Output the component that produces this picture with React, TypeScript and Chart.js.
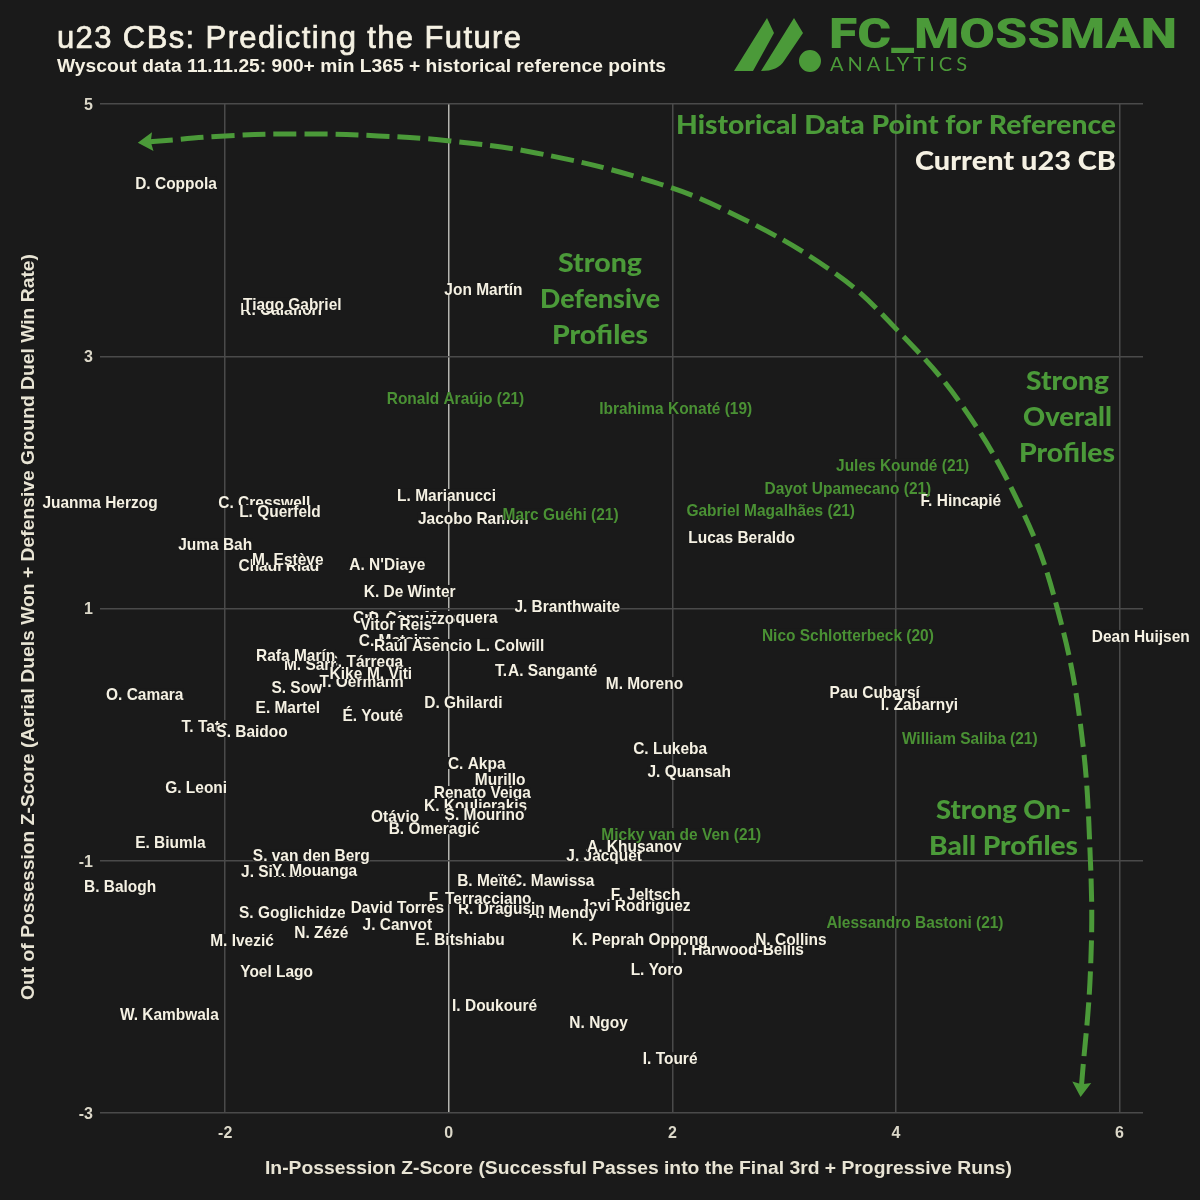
import React, { useEffect, useRef } from "react";
import { Chart, registerables } from "chart.js";

Chart.register(...registerables);

const xTicks = [-2, 0, 2, 4, 6];
const yTicks = [5, 3, 1, -1, -3];

// Current u23 CBs, in back-to-front drawing order
const currentNames = [
  "D. Coppola", "R. Calafiori", "Tiago Gabriel", "Jon Martín", "Juanma Herzog", "C. Cresswell", "L. Querfeld",
  "L. Marianucci", "Jacobo Ramón", "Juma Bah", "Chadi Riad", "M. Estève", "A. N'Diaye", "K. De Winter",
  "J. Branthwaite", "Cristhian Mosquera", "P. Comuzzo", "Vitor Reis", "C. Matsima", "Raúl Asencio", "L. Colwill",
  "C. Tárrega", "M. Sarr", "Rafa Marín", "T. Oermann", "Kike Salas", "M. Viti", "T. Adu", "A. Sanganté",
  "M. Moreno", "S. Sow", "E. Martel", "É. Youté", "D. Ghilardi", "O. Camara", "T. Tate", "S. Baidoo",
  "I. Zabarnyi", "Pau Cubarsí", "F. Hincapié", "Lucas Beraldo", "Dean Huijsen", "C. Lukeba", "J. Quansah",
  "C. Akpa", "Murillo", "Renato Veiga", "K. Koulierakis", "S. Mourino", "B. Omeragić", "Otávio", "G. Leoni",
  "E. Biumla", "S. van den Berg", "J. Simon", "Y. Mouanga", "B. Balogh", "C. Mawissa", "B. Meïté",
  "Javi Rodríguez", "A. Mendy", "R. Dragusin", "F. Terracciano", "David Torres", "S. Goglichidze", "J. Canvot",
  "N. Zézé", "E. Bitshiabu", "M. Ivezić", "Yoel Lago", "J. Jacquet", "A. Khusanov", "F. Jeltsch",
  "T. Harwood-Bellis", "K. Peprah Oppong", "N. Collins", "L. Yoro", "I. Doukouré", "N. Ngoy", "I. Touré",
  "W. Kambwala",
];
const currentX = [
  -2.44, -1.5, -1.4, 0.31, -3.12, -1.65, -1.51,
  -0.02, 0.22, -2.09, -1.52, -1.44, -0.55, -0.35,
  1.06, -0.21, -0.335, -0.47, -0.44, -0.23, 0.55,
  -0.75, -1.24, -1.37, -0.78, -0.72, -0.53, 0.62, 0.93,
  1.75, -1.36, -1.44, -0.68, 0.13, -2.72, -2.18, -1.76,
  4.21, 3.81, 4.58, 2.62, 6.19, 1.98, 2.15,
  0.25, 0.46, 0.3, 0.24, 0.32, -0.13, -0.48, -2.26,
  -2.49, -1.23, -1.57, -1.2, -2.94, 0.93, 0.34,
  1.67, 1.02, 0.47, 0.28, -0.46, -1.4, -0.46,
  -1.14, 0.1, -1.85, -1.54, 1.39, 1.66, 1.76,
  2.6, 1.71, 3.06, 1.86, 0.41, 1.34, 1.98,
  -2.5,
];
const currentY = [
  4.374, 3.375, 3.415, 3.534, 1.845, 1.845, 1.773,
  1.9, 1.718, 1.511, 1.345, 1.393, 1.353, 1.139,
  1.02, 0.933, 0.925, 0.877, 0.751, 0.711, 0.711,
  0.584, 0.56, 0.631, 0.425, 0.489, 0.489, 0.512, 0.512,
  0.409, 0.377, 0.219, 0.155, 0.259, 0.322, 0.068, 0.029,
  0.243, 0.338, 1.86, 1.567, 0.782, -0.106, -0.289,
  -0.225, -0.352, -0.455, -0.558, -0.63, -0.741, -0.646, -0.416,
  -0.852, -0.955, -1.082, -1.074, -1.201, -1.153, -1.153,
  -1.351, -1.407, -1.375, -1.296, -1.367, -1.407, -1.502,
  -1.565, -1.621, -1.629, -1.875, -0.955, -0.883, -1.264,
  -1.7, -1.621, -1.621, -1.859, -2.144, -2.279, -2.565,
  -2.216,
];

const historicNames = [
  "Ronald Araújo (21)", "Ibrahima Konaté (19)", "Jules Koundé (21)", "Dayot Upamecano (21)",
  "Gabriel Magalhães (21)", "Marc Guéhi (21)", "Nico Schlotterbeck (20)", "William Saliba (21)",
  "Micky van de Ven (21)", "Alessandro Bastoni (21)",
];
const historicX = [0.06, 2.03, 4.06, 3.57, 2.88, 1.0, 3.57, 4.66, 2.08, 4.17];
const historicY = [2.669, 2.59, 2.138, 1.956, 1.781, 1.749, 0.79, -0.027, -0.788, -1.486];

// The dashed guide arc
const arrowX = [-2.675, -2.0, -1.3, -0.63, 0.01, 0.78, 1.71, 2.45, 3.44, 4.01, 4.6, 5.14, 5.44, 5.65, 5.74, 5.74, 5.66];
const arrowY = [4.7, 4.747, 4.763, 4.747, 4.707, 4.612, 4.414, 4.168, 3.668, 3.209, 2.598, 1.757, 1.012, 0.084, -1.01, -1.875, -2.779];

const BG = "#1a1a1a";
const CREAM = "#f5f1e3";
const GREEN = "#4b9a39";
const LABEL_GREEN = "#4a9134";
const SANS = '"Liberation Sans", Arial, sans-serif';
const HAND = 'Lato, "Noto Sans", sans-serif';

// draw text stretched horizontally to a width
function fit(ctx: any, text: string, x: number, y: number, w: number) {
  ctx.textAlign = "left";
  const m = ctx.measureText(text).width;
  ctx.save();
  ctx.translate(x, y);
  ctx.scale(w / m, 1);
  ctx.fillText(text, 0, 0);
  ctx.restore();
}

function spaced(ctx: any, text: string, x: number, y: number, w: number, stroke = 0) {
  ctx.letterSpacing = "0px";
  ctx.textAlign = "left";
  const m = ctx.measureText(text).width;
  ctx.letterSpacing = ((w - m) / (text.length - 1)).toFixed(3) + "px";
  if (stroke) {
    ctx.strokeStyle = ctx.fillStyle;
    ctx.lineWidth = stroke;
    ctx.strokeText(text, x, y);
  }
  ctx.fillText(text, x, y);
  ctx.letterSpacing = "0px";
}

const overlay = {
  id: "overlay",
  beforeDraw(chart: any) {
    const { ctx, width, height } = chart;
    ctx.save();
    ctx.fillStyle = BG;
    ctx.fillRect(0, 0, width, height);
    ctx.restore();
  },
  afterDraw(chart: any) {
    const { ctx } = chart;
    ctx.save();
    ctx.textBaseline = "middle";

    // arrow heads on both ends of the arc
    const arc = chart.getDatasetMeta(0).data;
    const head = (a: any, b: any) => {
      const ang = Math.atan2(a.y - b.y, a.x - b.x);
      const c = Math.cos(ang);
      const s = Math.sin(ang);
      ctx.beginPath();
      ctx.moveTo(a.x + c * 12, a.y + s * 12);
      ctx.lineTo(a.x - c * 3 - s * 9.5, a.y - s * 3 + c * 9.5);
      ctx.lineTo(a.x - c * 1, a.y - s * 1);
      ctx.lineTo(a.x - c * 3 + s * 9.5, a.y - s * 3 - c * 9.5);
      ctx.closePath();
      ctx.fillStyle = GREEN;
      ctx.fill();
    };
    head(arc[0], arc[1]);
    head(arc[arc.length - 1], arc[arc.length - 2]);

    // player labels: later ones cover earlier ones with a tight dark box
    const labelScale = 0.91;
    const drawLabels = (index: number, names: string[], color: string) => {
      const pts = chart.getDatasetMeta(index).data;
      ctx.font = `bold 17px ${SANS}`;
      ctx.textAlign = "center";
      names.forEach((name, i) => {
        const w = ctx.measureText(name).width * labelScale;
        ctx.fillStyle = BG;
        ctx.fillRect(pts[i].x - w / 2, pts[i].y - 6, w, 12);
        ctx.fillStyle = color;
        ctx.save();
        ctx.translate(pts[i].x, pts[i].y + 1);
        ctx.scale(labelScale, 1);
        ctx.fillText(name, 0, 0);
        ctx.restore();
      });
    };
    drawLabels(1, currentNames, CREAM);
    drawLabels(2, historicNames, LABEL_GREEN);

    // headings
    ctx.fillStyle = CREAM;
    ctx.font = `31px ${SANS}`;
    spaced(ctx, "u23 CBs: Predicting the Future", 57, 39.5, 464, 0.7);
    ctx.font = `bold 18px ${SANS}`;
    fit(ctx, "Wyscout data 11.11.25: 900+ min L365 + historical reference points", 57, 67, 609);

    // axis titles
    ctx.fillStyle = "#e8e4d4";
    ctx.font = `bold 17.5px ${SANS}`;
    fit(ctx, "In-Possession Z-Score (Successful Passes into the Final 3rd + Progressive Runs)", 265, 1169, 747);
    ctx.save();
    ctx.translate(29, 1000);
    ctx.rotate(-Math.PI / 2);
    fit(ctx, "Out of Possession Z-Score (Aerial Duels Won + Defensive Ground Duel Win Rate)", 0, 0, 746);
    ctx.restore();

    // hand-lettered notes
    ctx.font = `900 27px ${HAND}`;
    const notes: [string, number, number, number, string][] = [
      ["Historical Data Point for Reference", 676, 125, 440, GREEN],
      ["Current u23 CB", 915, 161, 201, CREAM],
      ["Strong", 558, 263, 84, GREEN],
      ["Defensive", 540, 299, 120, GREEN],
      ["Profiles", 552, 335, 96, GREEN],
      ["Strong", 1026, 381, 83, GREEN],
      ["Overall", 1023, 417, 89, GREEN],
      ["Profiles", 1019, 453, 96, GREEN],
      ["Strong On-", 936, 810, 135, GREEN],
      ["Ball Profiles", 929, 846, 149, GREEN],
    ];
    notes.forEach(([t, x, y, w, c]) => {
      ctx.fillStyle = c;
      fit(ctx, t, x, y, w);
    });

    // logo
    ctx.fillStyle = GREEN;
    ctx.beginPath();
    ctx.moveTo(734, 71);
    ctx.lineTo(767, 18);
    ctx.lineTo(774, 33);
    ctx.lineTo(753, 71);
    ctx.closePath();
    ctx.moveTo(761, 71);
    ctx.lineTo(794, 18);
    ctx.lineTo(803, 33);
    ctx.lineTo(784, 61);
    ctx.quadraticCurveTo(778, 71, 761, 71);
    ctx.closePath();
    ctx.moveTo(821, 61);
    ctx.arc(810, 61, 11, 0, Math.PI * 2);
    ctx.fill();
    ctx.textBaseline = "alphabetic";
    ctx.font = `900 42px Roboto, ${SANS}`;
    fit(ctx, "FC_MOSSMAN", 829, 48, 348);
    ctx.textBaseline = "middle";
    ctx.font = `400 20px Lato, ${SANS}`;
    spaced(ctx, "ANALYTICS", 830, 65, 137);
    ctx.restore();
  },
};

export default function App() {
  const ref = useRef<HTMLCanvasElement | null>(null);
  useEffect(() => {
    document.body.style.margin = "0";
    document.body.style.background = BG;
    const toPoints = (xs: number[], ys: number[]) => xs.map((x, i) => ({ x, y: ys[i] }));
    const chart = new Chart(ref.current as HTMLCanvasElement, {
      type: "scatter",
      data: {
        datasets: [
          {
            label: "Guide",
            data: toPoints(arrowX, arrowY),
            showLine: true,
            tension: 0.4,
            borderColor: GREEN,
            borderWidth: 5,
            borderDash: [23, 8],
            pointRadius: 0,
          },
          { label: "Current u23 CB", data: toPoints(currentX, currentY), pointRadius: 0, showLine: false },
          { label: "Historical Data Point for Reference", data: toPoints(historicX, historicY), pointRadius: 0, showLine: false },
        ],
      } as any,
      options: {
        animation: false,
        responsive: false,
        devicePixelRatio: 1,
        layout: { padding: { left: 0, top: 104, right: 57, bottom: 0 } },
        plugins: { legend: { display: false }, tooltip: { enabled: false } },
        scales: {
          x: {
            type: "linear",
            min: -3.12,
            max: 6.21,
            afterBuildTicks: (s: any) => {
              s.ticks = xTicks.map((value) => ({ value }));
            },
            afterFit: (s: any) => {
              s.height = 87;
            },
            border: { display: false },
            grid: {
              drawTicks: false,
              lineWidth: 1.5,
              color: (c: any) => (c.tick && c.tick.value === 0 ? "#b5b5b0" : "#4a4a4a"),
            },
            ticks: {
              color: "#dcd8c9",
              font: { family: SANS, size: 16, weight: "bold" },
              padding: 11,
              autoSkip: false,
              maxRotation: 0,
            },
          },
          y: {
            type: "linear",
            min: -3,
            max: 5,
            afterBuildTicks: (s: any) => {
              s.ticks = yTicks.map((value) => ({ value }));
            },
            afterFit: (s: any) => {
              s.width = 100;
            },
            border: { display: false },
            grid: { drawTicks: false, lineWidth: 1.5, color: "#4a4a4a" },
            ticks: {
              color: "#dcd8c9",
              font: { family: SANS, size: 16, weight: "bold" },
              padding: 7,
              labelOffset: 1.5,
              autoSkip: false,
            },
          },
        },
      } as any,
      plugins: [overlay],
    } as any);
    return () => chart.destroy();
  }, []);
  return <canvas ref={ref} width={1200} height={1200} style={{ display: "block", width: 1200, height: 1200 }} />;
}
